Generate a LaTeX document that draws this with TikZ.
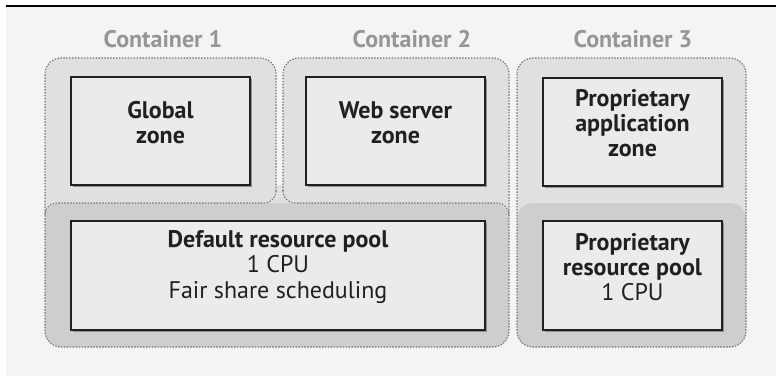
\documentclass[tikz,border=0pt]{standalone}
\usepackage{fontspec}
\setmainfont{PT Sans}
\usepackage{tikz}
\usetikzlibrary{fit,shadows}

\definecolor{pagebg}{HTML}{F3F4F4}
\definecolor{contfill}{HTML}{DFE0E1}
\definecolor{poolfill}{HTML}{CDCECF}
\definecolor{boxfill}{HTML}{EAEBEB}
\definecolor{labelgray}{HTML}{959697}
\definecolor{inkblack}{HTML}{231F20}

\begin{document}
\begin{tikzpicture}[
		x=0.75pt,y=-0.75pt,
		every node/.style={font=\fontsize{18}{18.8}\selectfont},
		zonebox/.style={draw=inkblack, line width=1.3pt, fill=boxfill, inner sep=0pt,
			text=inkblack, sharp corners, align=center, font=\fontsize{18}{18.8}\selectfont\bfseries,
			drop shadow={shadow xshift=1.6pt, shadow yshift=-1.6pt, fill=black!55, opacity=0.7, sharp corners}},
		contlabel/.style={text=labelgray, font=\fontsize{18}{18}\selectfont\bfseries},
		dottedline/.style={draw=black!55, line width=0.8pt, dash pattern=on 1.1pt off 1.1pt},
		rounded corners=12
		]
		
		\useasboundingbox (0,0) rectangle (776,376);
		
		% =========================
		% page background and rule
		% =========================
		\fill[pagebg, sharp corners] (6,7) rectangle (776,376);
		\draw[line width=1.6pt, sharp corners] (6,6) -- (776,6);
		
		% =========================
		% Containers 1 and 2 sharing the default pool
		% =========================
		\fill[contfill] (45,58) rectangle (276,230);
		\fill[contfill] (283,58) rectangle (509,230);
		\fill[contfill, sharp corners] (275,185) rectangle (284,215);
		
		\fill[poolfill] (45,203) rectangle (509,347);
		
		% outer outline
		\draw[dottedline] (276,191) -- (276,58) -- (45,58) -- (45,347)
		-- (509,347) -- (509,58) -- (283,58) -- (283,191);
		% pool top with its joins
		\draw[dottedline, sharp corners] (276,191) to[out=-90,in=0] (264,203) -- (57,203)
		to[out=180,in=90] (45,215);
		\draw[dottedline, sharp corners] (283,191) to[out=-90,in=180] (295,203) -- (497,203)
		to[out=0,in=90] (509,215);
		
		% =========================
		% Container 3 with its own pool
		% =========================
		\fill[contfill] (517,58) rectangle (746,347);
		\fill[poolfill] (517,203) rectangle (746,347);
		\draw[dottedline] (517,58) rectangle (746,347);
		
		% container titles
		\node[contlabel] (c1) at (163,39) {Container 1};
		\node[contlabel] (c2) at (412,39) {Container 2};
		\node[contlabel] (c3) at (633,39) {Container 3};
		
		% =========================
		% zones and pools
		% =========================
		\node[zonebox, fit={(71,77) (250,185)}] (global) {Global\\zone};
		\node[zonebox, fit={(306,77) (485,185)}] (web) {Web server\\zone};
		\node[zonebox, fit={(543,78) (722,186)}] (app) {Proprietary\\application\\zone};
		
		\node[zonebox, fit={(71,221) (485,330)}] (defpool)
		{Default resource pool\\\mdseries 1 CPU\\\mdseries Fair share scheduling};
		\node[zonebox, fit={(543,221) (722,330)}] (proppool)
		{Proprietary\\resource pool\\\mdseries 1 CPU};
		
	\end{tikzpicture}
\end{document}
